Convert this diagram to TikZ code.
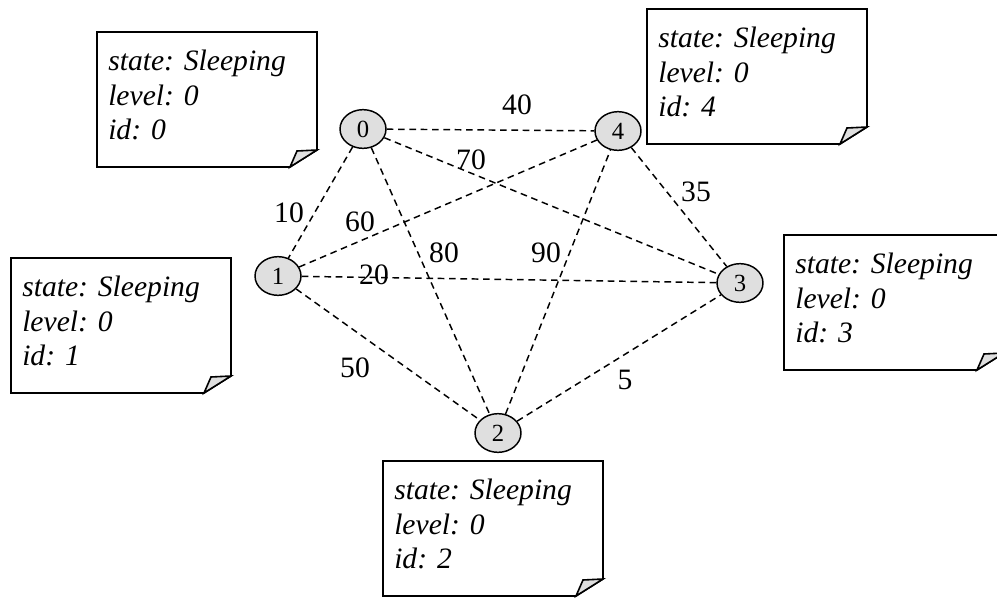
\documentclass[tikz,border=0pt]{standalone}
\usepackage{fontspec}
\setmainfont{Liberation Serif}
\usetikzlibrary{shapes.geometric}

\tikzset{
  vertex/.style={ellipse,draw,line width=1.1pt,fill=gray!25,minimum width=34.5pt,
    minimum height=29pt,inner sep=0pt,font=\fontsize{18.5}{20}\selectfont},
  link/.style={line width=1.1pt,dash pattern=on 5pt off 3.5pt},
  weight/.style={inner sep=0pt,font=\fontsize{22.2}{25}\selectfont},
  memoline/.style={line width=1.2pt,line join=miter},
  memo/.style={anchor=north west,align=left,inner sep=0pt,
    font=\fontsize{22.2}{25.9}\selectfont\itshape},
}

\begin{document}
\begin{tikzpicture}[x=0.75pt,y=-0.75pt]
   \useasboundingbox (0,0) rectangle (997,597);
   % notes with a folded corner
   \foreach \i/\x/\y in {0/97/32,4/647/9,1/11/258,3/784/235,2/383/461}{
     \draw[memoline] (\x,\y) -- ++(220,0) -- ++(0,118) -- ++(-27,17) -- ++(-193,0) -- cycle;
     \filldraw[memoline,fill=gray!25] (\x+193,\y+135) .. controls (\x+197,\y+127) .. (\x+200,\y+119) -- (\x+220,\y+118) -- cycle;
     \node[memo] (memo\i) at (\x+11,\y+18) {state: Sleeping\\level: 0\\id: \i};
   }
   % graph
   \node[vertex] (v0) at (363,129) {0};
   \node[vertex] (v1) at (278,276) {1};
   \node[vertex] (v2) at (498,433) {2};
   \node[vertex] (v3) at (740,283) {3};
   \node[vertex] (v4) at (618,131) {4};
   \foreach \a/\b in {0/4,0/3,0/1,0/2,1/4,1/3,1/2,2/4,2/3,4/3}
     \draw[link] (v\a) -- (v\b);
   \node[weight] (w04) at (517,105) {40};
   \node[weight] (w03) at (471,160) {70};
   \node[weight] (w43) at (696,192) {35};
   \node[weight] (w01) at (289,213) {10};
   \node[weight] (w14) at (360,222) {60};
   \node[weight] (w02) at (444,253) {80};
   \node[weight] (w24) at (546,253) {90};
   \node[weight] (w13) at (374,275) {20};
   \node[weight] (w12) at (355,368) {50};
   \node[weight] (w23) at (625,380) {5};
\end{tikzpicture}
\end{document}
